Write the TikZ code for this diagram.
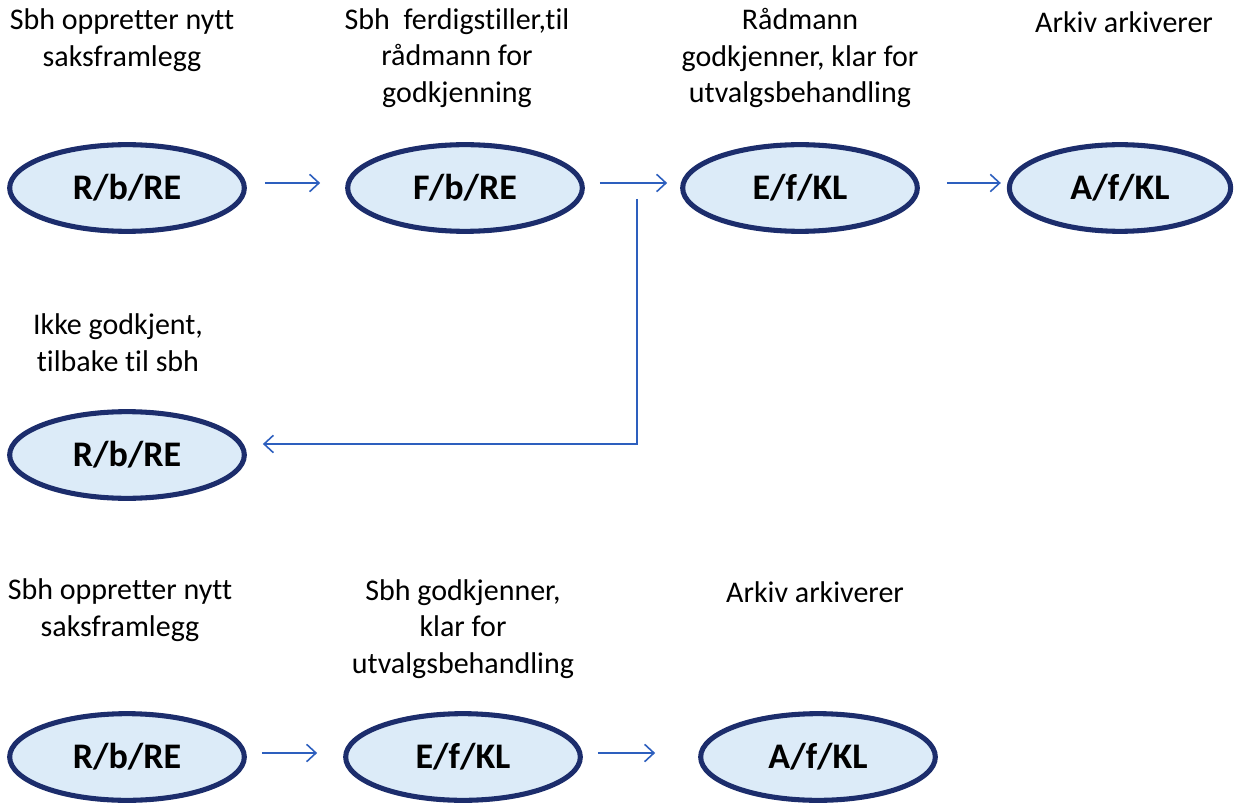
\documentclass[tikz,border=0pt]{standalone}
\usepackage{fontspec}
\setmainfont{Carlito}[Ligatures={NoCommon,NoContextual}]
\usetikzlibrary{arrows.meta,shapes.geometric,calc}
\definecolor{efill}{RGB}{220,235,248}
\definecolor{edraw}{RGB}{28,45,108}
\definecolor{arrblue}{RGB}{45,95,190}
\tikzset{
  state/.style={ellipse, draw=edraw, fill=efill, line width=3.8pt,
    minimum width=176pt, minimum height=65pt, inner sep=0pt,
    font=\fontsize{27}{32}\selectfont\bfseries},
  lbl/.style={align=center, inner sep=0pt, font=\fontsize{22.5}{27.5}\selectfont},
  arr/.style={draw=arrblue, line width=1.2pt, -{Straight Barb[length=7pt,width=13pt,line width=1.2pt]}},
}
\begin{document}
\begin{tikzpicture}[x=0.75pt,y=-0.75pt]
\useasboundingbox (0,0) rectangle (1237,805);
% row 1
\node[lbl] (l1) at (122,40) {Sbh oppretter nytt\\saksframlegg};
\node[lbl] (l2) at (457,58) {Sbh\ \ ferdigstiller,til\\rådmann for\\godkjenning};
\node[lbl] (l3) at (800,58) {Rådmann\\godkjenner, klar for\\utvalgsbehandling};
\node[lbl] (l4) at (1124,22) {Arkiv arkiverer};
\node[state] (r1) at (127,188) {R/b/RE};
\node[state] (f1) at (465,188) {F/b/RE};
\node[state] (e1) at (800,188) {E/f/KL};
\node[state, minimum width=166pt] (a1) at (1120,188) {A/f/KL};
\draw[arr] ([shift={(18,-5)}]r1.east) -- ([shift={(-25,-5)}]f1.west);
\draw[arr] ([shift={(15,-5)}]f1.east) -- ([shift={(-13,-5)}]e1.west);
\draw[arr] ([shift={(27,-5)}]e1.east) -- ([shift={(-6,-5)}]a1.west);
% row 2
\node[lbl] (l5) at (118,343) {Ikke godkjent,\\tilbake til sbh};
\node[state] (r2) at (127,455) {R/b/RE};
\coordinate (fb) at (637,199);
\draw[arr] (fb) |- ([shift={(16,-11)}]r2.east);
% row 3
\node[lbl] (l6) at (120,610) {Sbh oppretter nytt\\saksframlegg};
\node[lbl] (l7) at (463,629) {Sbh godkjenner,\\klar for\\utvalgsbehandling};
\node[lbl] (l8) at (815,592) {Arkiv arkiverer};
\node[state] (r3) at (127,757) {R/b/RE};
\node[state] (e3) at (463,757) {E/f/KL};
\node[state] (a3) at (818,757) {A/f/KL};
\draw[arr] ([shift={(15,-4)}]r3.east) -- ([shift={(-26,-4)}]e3.west);
\draw[arr] ([shift={(15,-4)}]e3.east) -- ([shift={(-43,-4)}]a3.west);
\end{tikzpicture}
\end{document}
